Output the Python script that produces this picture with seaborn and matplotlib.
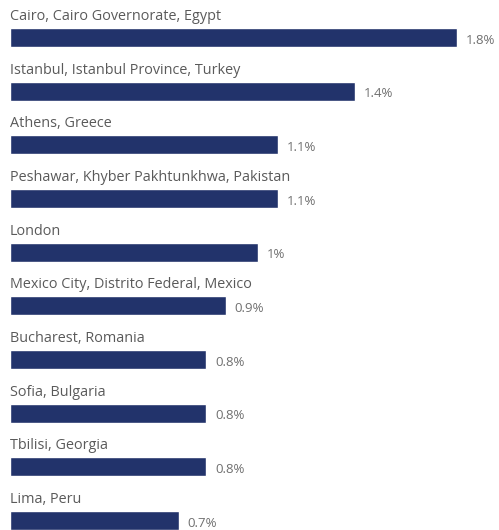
import matplotlib
matplotlib.use("Agg")
import matplotlib.pyplot as plt
import seaborn as sns
import pandas as pd

cities = [
    "Cairo, Cairo Governorate, Egypt",
    "Istanbul, Istanbul Province, Turkey",
    "Athens, Greece",
    "Peshawar, Khyber Pakhtunkhwa, Pakistan",
    "London",
    "Mexico City, Distrito Federal, Mexico",
    "Bucharest, Romania",
    "Sofia, Bulgaria",
    "Tbilisi, Georgia",
    "Lima, Peru",
]
shares = [1.80, 1.39, 1.08, 1.08, 1.00, 0.87, 0.79, 0.79, 0.79, 0.68]
share_labels = ["1.8%", "1.4%", "1.1%", "1.1%", "1%", "0.9%", "0.8%", "0.8%", "0.8%", "0.7%"]

df = pd.DataFrame({"city": cities, "share": shares})

sns.set_style("white")
plt.rcParams["font.family"] = ["Open Sans", "DejaVu Sans"]

fig = plt.figure(figsize=(4.99, 5.30), dpi=100)
ax = fig.add_axes([10 / 499, 0, 489 / 499, 1])

sns.barplot(data=df, x="share", y="city", color="#22336b", width=0.354,
            saturation=1, ax=ax)

ax.set_xlim(0, 1.8 * 489 / 447)
ax.set_ylim(9 + 9.5 / 53.7, -37.5 / 53.7)
ax.axis("off")

# city name above each bar, value to the right of it
for i, (name, val, lab) in enumerate(zip(cities, shares, share_labels)):
    ax.text(0, i - 0.39, name, fontsize=10.4, color="#5a5a5a", va="center", ha="left")
    ax.text(val + 0.035, i + 0.05, lab, fontsize=9.5, color="#707070", va="center", ha="left")

fig.savefig("out.png", dpi=100)
